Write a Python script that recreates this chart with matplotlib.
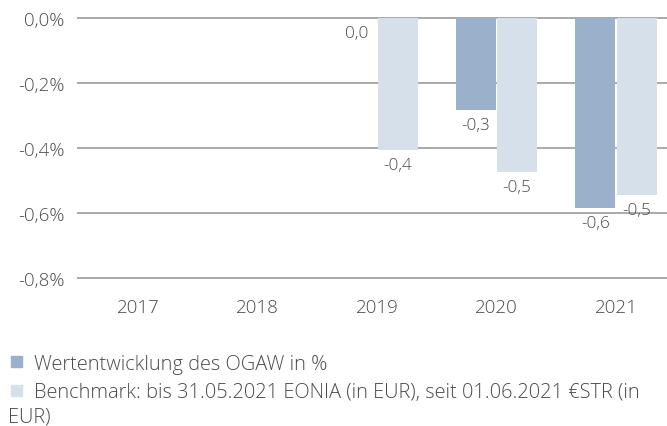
import matplotlib
matplotlib.use("Agg")
import matplotlib.pyplot as plt
from matplotlib.patches import Rectangle
import numpy as np

years = ["2017", "2018", "2019", "2020", "2021"]
ogaw = [None, None, 0.0, -0.283, -0.583]
benchmark = [None, None, -0.405, -0.472, -0.543]
ogaw_labels = [None, None, "0,0", "-0,3", "-0,6"]
bench_labels = [None, None, "-0,4", "-0,5", "-0,5"]
yticks = [0.0, -0.2, -0.4, -0.6, -0.8]
ytick_labels = ["0,0%", "-0,2%", "-0,4%", "-0,6%", "-0,8%"]
legend_labels = ["Wertentwicklung des OGAW in %",
                 "Benchmark: bis 31.05.2021 EONIA (in EUR), seit 01.06.2021 €STR (in",
                 "EUR)"]

C_OGAW = "#9bb0cb"
C_BENCH = "#d6e0ea"
C_TEXT = "#4a4a4a"
C_GRID = "#a9a9a9"
FONT = ["Open Sans", "DejaVu Sans"]
plt.rcParams["font.family"] = FONT
plt.rcParams["font.weight"] = "light"

W, H = 667, 427
fig = plt.figure(figsize=(W / 100, H / 100), dpi=100)

band = 119.5
x0 = 138 - band / 2
y_top, y_bot = 19, 279.3
ax = fig.add_axes([x0 / W, 1 - y_bot / H, 5 * band / W, (y_bot - y_top) / H])
ax.set_xlim(-0.5, 4.5)
ax.set_ylim(-0.8, 0.0)

x = np.arange(len(years))
bw = 40 / band
off = 20.6 / band
for i in range(len(years)):
    if ogaw[i] is not None:
        ax.bar(x[i] - off, ogaw[i], width=bw, color=C_OGAW, zorder=3)
        ax.annotate(ogaw_labels[i], (x[i] - off, ogaw[i]), xytext=(0, -15),
                    textcoords="offset pixels", ha="center", va="center",
                    fontsize=12.3, color=C_TEXT, zorder=4)
    if benchmark[i] is not None:
        ax.bar(x[i] + off, benchmark[i], width=bw, color=C_BENCH, zorder=3)
        ax.annotate(bench_labels[i], (x[i] + off, benchmark[i]), xytext=(0, -15),
                    textcoords="offset pixels", ha="center", va="center",
                    fontsize=12.3, color=C_TEXT, zorder=4)

for v in yticks:
    ax.axhline(v, color=C_GRID, lw=1.4, zorder=1, clip_on=False)

for s in ax.spines.values():
    s.set_visible(False)
ax.set_yticks(yticks)
ax.set_yticklabels(ytick_labels)
ax.set_xticks(x)
ax.set_xticklabels(years)
ax.tick_params(length=0, labelsize=13.5, colors=C_TEXT)
ax.tick_params(axis="y", pad=10)
ax.tick_params(axis="x", pad=14)

# legend
sq = 11
for c, yc in [(C_OGAW, 362.5), (C_BENCH, 391)]:
    fig.patches.append(Rectangle((11 / W, 1 - (yc + sq / 2) / H), sq / W, sq / H,
                                 transform=fig.transFigure, color=c))
fig.text(34 / W, 1 - 370 / H, legend_labels[0], fontsize=14.4, color=C_TEXT, va="baseline")
fig.text(34 / W, 1 - 398 / H, legend_labels[1], fontsize=14.4, color=C_TEXT, va="baseline")
fig.text(8 / W, 1 - 423 / H, legend_labels[2], fontsize=14.4, color=C_TEXT, va="baseline")

fig.savefig("out.png", dpi=100)
